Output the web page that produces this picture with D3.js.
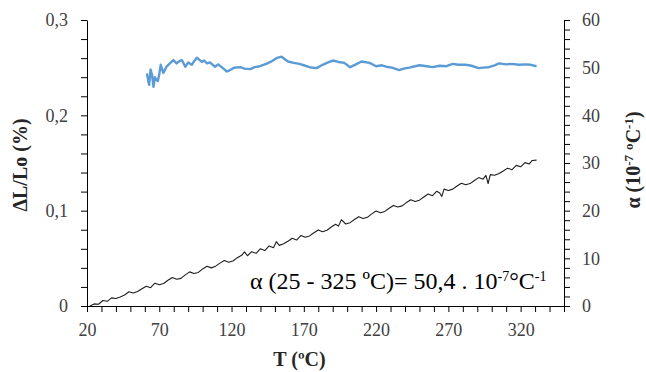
<!DOCTYPE html>
<html>
<head>
<meta charset="utf-8">
<script src="https://cdn.jsdelivr.net/npm/d3@7"></script>
<style>
	body { margin: 0; background: #fff; }
	svg { display: block; }
</style>
</head>
<body>
<svg id="chart"></svg>
<script>
// temperature (ºC) and relative expansion ΔL/Lo (%)
const strainTemp = [22, 25, 28, 31, 34, 37, 40, 43, 46, 49,
	52, 55, 58, 61, 64, 67, 70, 73, 76, 79,
	82, 85, 88, 91, 94, 97, 100, 103, 106, 109,
	112, 115, 118, 121, 124, 127, 129, 131, 134, 137,
	140, 143, 146, 149, 151, 153, 156, 159, 162, 165,
	168, 171, 174, 177, 180, 183, 186, 189, 192, 194,
	196, 199, 202, 205, 208, 211, 214, 217, 220, 223,
	226, 229, 232, 235, 238, 241, 244, 247, 250, 253,
	256, 259, 262, 264, 265.5, 267, 270, 273, 276, 279,
	282, 285, 288, 291, 294, 296, 297.5, 299, 302, 305,
	308, 311, 314, 317, 320, 323, 326, 328, 331];
const strainValues = [0.0000, 0.0022, 0.0018, 0.0058, 0.0049, 0.0085, 0.0079, 0.0094, 0.0116, 0.0149,
	0.0137, 0.0152, 0.0181, 0.0207, 0.0192, 0.0239, 0.0222, 0.0236, 0.0270, 0.0299,
	0.0281, 0.0290, 0.0326, 0.0358, 0.0341, 0.0352, 0.0389, 0.0417, 0.0400, 0.0418,
	0.0450, 0.0477, 0.0459, 0.0472, 0.0507, 0.0532, 0.0568, 0.0527, 0.0570, 0.0553,
	0.0601, 0.0582, 0.0630, 0.0612, 0.0675, 0.0636, 0.0652, 0.0680, 0.0710, 0.0692,
	0.0740, 0.0721, 0.0735, 0.0769, 0.0798, 0.0779, 0.0795, 0.0828, 0.0858, 0.0838,
	0.0905, 0.0860, 0.0874, 0.0907, 0.0937, 0.0918, 0.0930, 0.0966, 0.0996, 0.0978,
	0.0992, 0.1026, 0.1055, 0.1038, 0.1050, 0.1085, 0.1114, 0.1097, 0.1110, 0.1144,
	0.1174, 0.1157, 0.1204, 0.1185, 0.1150, 0.1226, 0.1212, 0.1226, 0.1258, 0.1288,
	0.1271, 0.1284, 0.1317, 0.1347, 0.1330, 0.1370, 0.1285, 0.1378, 0.1372, 0.1390,
	0.1416, 0.1446, 0.1430, 0.1475, 0.1460, 0.1504, 0.1490, 0.1527, 0.1530];

// temperature (ºC) and expansion coefficient α (10-7 ºC-1)
const alphaTemp = [61.5, 62.5, 63, 64, 65, 66, 67, 68, 69, 70, 71, 72.8, 75, 77, 79.7, 82, 84, 85.6, 88, 90,
	92.5, 94, 96, 99.4, 101, 103, 105, 108.6, 110.7, 114, 116.7, 119, 122, 126, 129, 133, 136, 139.6, 144,
	147, 151, 154.6, 159, 163, 167, 171, 174, 178.8, 183, 186, 190, 194, 198, 202, 206, 210, 215.5, 220,
	224, 227, 231, 236, 239, 243, 247, 250, 255, 259, 264, 268.6, 273, 277, 282, 286, 291, 294, 298, 302,
	305, 310, 314, 319, 323.6, 327, 331];
const alphaValues = [48.8, 47.0, 46.4, 49.6, 48.5, 46.0, 48.0, 47.4, 47.2, 48.6, 50.6, 48.9, 50.2, 50.8,
	51.6, 50.9, 51.4, 51.6, 50.2, 51.1, 50.6, 51.3, 52.1, 51.2, 51.5, 50.9, 51.1, 50.2, 50.7, 49.9, 49.2,
	49.5, 50.0, 50.1, 49.8, 49.7, 50.1, 50.3, 50.8, 51.2, 52.0, 52.3, 51.3, 51.0, 50.8, 50.4, 50.1, 49.9,
	50.6, 51.0, 51.5, 51.2, 51.0, 50.1, 50.7, 51.3, 51.0, 50.3, 50.5, 50.2, 50.0, 49.5, 49.8, 50.0, 50.3,
	50.5, 50.3, 50.1, 50.4, 50.3, 50.8, 50.6, 50.6, 50.4, 49.9, 50.0, 50.1, 50.5, 50.9, 50.7, 50.8, 50.6,
	50.7, 50.6, 50.3];

const xTickLabels = [20, 70, 120, 170, 220, 270, 320];
const leftTickLabels = [0, 0.1, 0.2, 0.3];
const rightTickLabels = [0, 10, 20, 30, 40, 50, 60];

class DilatometryChart {
	constructor(_config) {
		this.config = {
			parentElement: _config.parentElement,
			containerWidth: 646,
			containerHeight: 372,
			margin: { top: 20, right: 82, bottom: 66, left: 87 },
			fontFamily: '"Liberation Serif", "Times New Roman", Times, Tinos, "Noto Serif", "DejaVu Serif", "Nimbus Roman", FreeSerif, serif',
		};
		this.initVis();
	}

	initVis() {
		let vis = this;
		vis.width = vis.config.containerWidth - vis.config.margin.left - vis.config.margin.right;
		vis.height = vis.config.containerHeight - vis.config.margin.top - vis.config.margin.bottom;

		vis.svg = d3.select(vis.config.parentElement)
			.attr('width', vis.config.containerWidth)
			.attr('height', vis.config.containerHeight)
			.attr('font-family', vis.config.fontFamily);

		vis.chart = vis.svg.append('g')
			.attr('transform', `translate(${vis.config.margin.left},${vis.config.margin.top})`);

		vis.x = d3.scaleLinear().domain([20, 350]).range([0, vis.width]);
		vis.yLeft = d3.scaleLinear().domain([0, 0.3]).range([vis.height, 0]);
		vis.yRight = d3.scaleLinear().domain([0, 60]).range([vis.height, 0]);

		vis.renderVis();
	}

	renderVis() {
		let vis = this;
		const fmtComma = (d) => d3.format('.1~f')(d).replace('.', ',');

		// minor ticks are drawn as unlabelled ticks
		let xAxis = d3.axisBottom(vis.x)
			.tickValues(d3.range(20, 351, 10))
			.tickSizeInner(6).tickSizeOuter(0)
			.tickFormat((d) => xTickLabels.includes(d) ? d : '');
		let leftAxis = d3.axisLeft(vis.yLeft)
			.tickValues(d3.range(0, 0.301, 0.02).map((d) => +d.toFixed(2)))
			.tickSizeInner(6).tickSizeOuter(0)
			.tickFormat((d) => leftTickLabels.some((v) => Math.abs(v - d) < 1e-9) ? fmtComma(d) : '');
		let rightAxis = d3.axisRight(vis.yRight)
			.tickValues(d3.range(0, 61, 2))
			.tickSizeInner(6).tickSizeOuter(0)
			.tickFormat((d) => rightTickLabels.includes(d) ? d : '');

		let gx = vis.chart.append('g')
			.attr('transform', `translate(0,${vis.height})`)
			.call(xAxis);
		let gl = vis.chart.append('g').call(leftAxis);
		let gr = vis.chart.append('g')
			.attr('transform', `translate(${vis.width},0)`)
			.call(rightAxis);

		[gx, gl, gr].forEach((g) => {
			g.attr('font-family', vis.config.fontFamily).attr('font-size', 18);
			g.selectAll('path, line').attr('stroke', '#000').attr('stroke-width', 1);
			g.selectAll('text').attr('fill', '#404040');
		});
		gx.selectAll('text').attr('dy', '1.1em').attr('y', 10);
		gl.selectAll('text').attr('x', -19).attr('dy', '0.33em');
		gr.selectAll('text').attr('x', 18).attr('dy', '0.33em');

		// ΔL/Lo curve
		let strainLine = d3.line()
			.x((d, i) => vis.x(strainTemp[i]))
			.y((d) => vis.yLeft(d));
		vis.chart.append('path')
			.datum(strainValues)
			.attr('fill', 'none')
			.attr('stroke', '#1e1e1e')
			.attr('stroke-width', 1.1)
			.attr('stroke-linejoin', 'round')
			.attr('d', strainLine);

		// α curve
		let alphaLine = d3.line()
			.x((d, i) => vis.x(alphaTemp[i]))
			.y((d) => vis.yRight(d));
		vis.chart.append('path')
			.datum(alphaValues)
			.attr('fill', 'none')
			.attr('stroke', '#5b9bd5')
			.attr('stroke-width', 2.4)
			.attr('stroke-linejoin', 'round')
			.attr('d', alphaLine);

		// annotation
		let note = vis.svg.append('text')
			.attr('x', 250)
			.attr('y', 289)
			.attr('font-size', 24)
			.attr('fill', '#000');
		note.append('tspan').text('α (25 - 325 ºC)= 50,4 . 10');
		note.append('tspan').attr('dy', -8).attr('font-size', 14).text('-7');
		note.append('tspan').attr('dy', 8).text('°C');
		note.append('tspan').attr('dy', -8).attr('font-size', 14).text('-1');

		// axis titles
		const title = (sel) => sel
			.attr('font-size', 20)
			.attr('font-weight', 'bold')
			.attr('fill', '#262626')
			.attr('text-anchor', 'middle');

		vis.svg.append('text')
			.call(title)
			.attr('x', vis.config.margin.left + vis.x(167))
			.attr('y', 366)
			.text('T (ºC)');

		vis.svg.append('text')
			.call(title)
			.attr('transform', 'translate(27,165) rotate(-90)')
			.text('ΔL/Lo (%)');

		let rt = vis.svg.append('text')
			.call(title)
			.attr('transform', 'translate(640,160) rotate(-90)');
		rt.append('tspan').text('α (10');
		rt.append('tspan').attr('dy', -7).attr('font-size', 13).text('-7');
		rt.append('tspan').attr('dy', 7).text(' ºC');
		rt.append('tspan').attr('dy', -7).attr('font-size', 13).text('-1');
		rt.append('tspan').attr('dy', 7).text(')');
	}
}

new DilatometryChart({ parentElement: '#chart' });
</script>
</body>
</html>
